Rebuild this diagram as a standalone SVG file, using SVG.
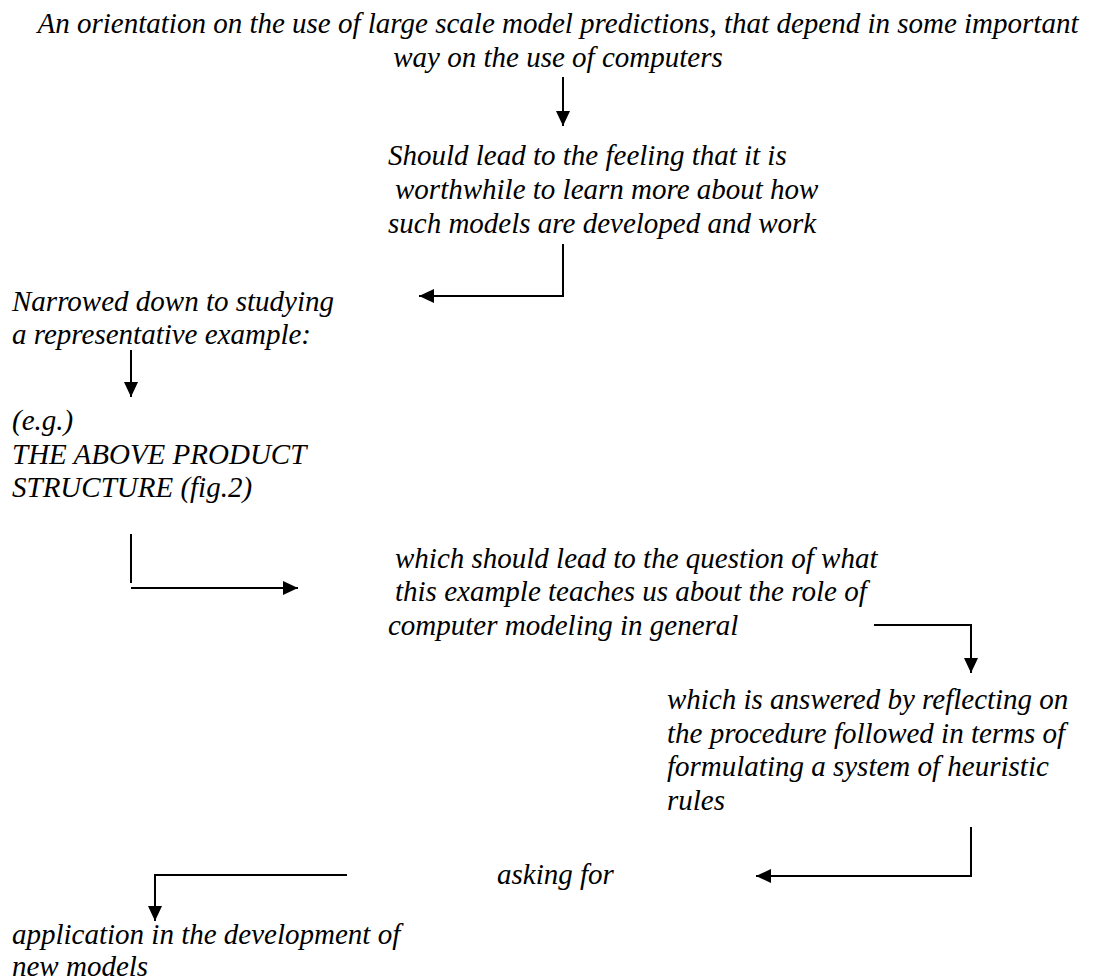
<svg xmlns="http://www.w3.org/2000/svg" width="1101" height="980" viewBox="0 0 1101 980">
<style>
.t{font-family:'Liberation Serif','DejaVu Serif',serif;font-style:italic;font-size:29px;fill:#000}
.c{stroke:#000;stroke-width:2;fill:none}
</style>
<defs>
<marker id="ah" markerUnits="userSpaceOnUse" markerWidth="16" markerHeight="15" refX="15" refY="7" orient="auto"><path d="M0,0 L15,7 L0,14 z" fill="#000"/></marker>
</defs>
<rect width="1101" height="980" fill="#fff"/>
<g class="t" font-family="Liberation Serif, DejaVu Serif, serif" font-style="italic">
<g id="n1"><text x="558" y="33" text-anchor="middle">An orientation on the use of large scale model predictions, that depend in some important</text><text x="558" y="67" text-anchor="middle">way on the use of computers</text></g>
<g id="n2"><text x="388" y="165">Should lead to the feeling that it is</text><text x="395" y="199">worthwhile to learn more about how</text><text x="388" y="233">such models are developed and work</text></g>
<g id="n3"><text x="12" y="311">Narrowed down to studying</text><text x="12" y="344">a representative example:</text></g>
<g id="n4"><text x="12" y="430">(e.g.)</text><text x="12" y="464">THE ABOVE PRODUCT</text><text x="12" y="497">STRUCTURE (fig.2)</text></g>
<g id="n5"><text x="395" y="568">which should lead to the question of what</text><text x="395" y="601">this example teaches us about the role of</text><text x="388" y="635">computer modeling in general</text></g>
<g id="n6"><text x="667" y="709">which is answered by reflecting on</text><text x="667" y="743">the procedure followed in terms of</text><text x="667" y="776">formulating a system of heuristic</text><text x="667" y="810">rules</text></g>
<g id="n7"><text x="497" y="884">asking for</text></g>
<g id="n8"><text x="12" y="944">application in the development of</text><text x="12" y="976">new models</text></g>
</g>
<g id="connectors">
<path class="c" d="M563,77 V126" marker-end="url(#ah)"/>
<path class="c" d="M563,244 V296 H419" marker-end="url(#ah)"/>
<path class="c" d="M131,350 V397" marker-end="url(#ah)"/>
<path class="c" d="M131,534 V583"/>
<path class="c" d="M131,588 H298" marker-end="url(#ah)"/>
<path class="c" d="M874,625 H971 V673" marker-end="url(#ah)"/>
<path class="c" d="M971,827 V876 H756" marker-end="url(#ah)"/>
<path class="c" d="M347,875 H155 V921" marker-end="url(#ah)"/>
</g>
</svg>
